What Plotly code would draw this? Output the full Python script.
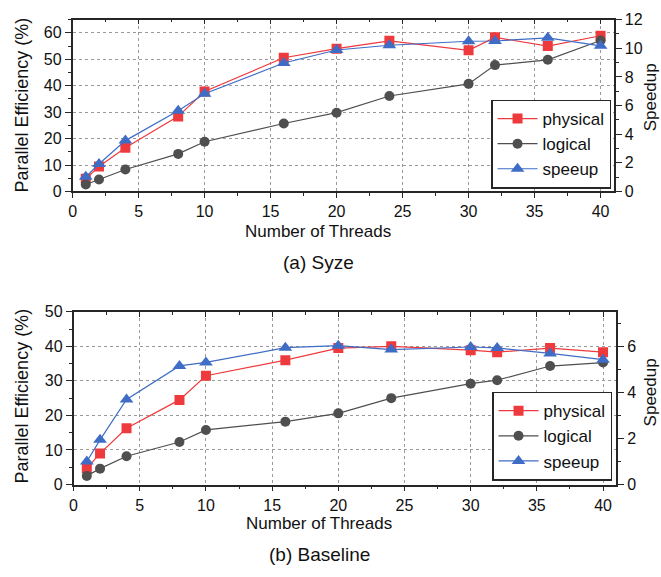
import plotly.graph_objects as go

# Thread counts shared by both experiments
threads = [1, 2, 4, 8, 10, 16, 20, 24, 30, 32, 36, 40]

# (a) Syze: parallel efficiency (%) and speedup
syze_physical = [4.8, 9.4, 16.5, 28.4, 37.8, 50.6, 54.0, 57.0, 53.4, 58.3, 55.0, 58.9]
syze_logical = [2.6, 4.5, 8.3, 14.2, 18.8, 25.7, 29.8, 36.1, 40.7, 47.8, 49.8, 57.1]
syze_speedup = [1.02, 1.92, 3.55, 5.63, 6.82, 8.97, 9.88, 10.21, 10.49, 10.51, 10.73, 10.17]

# (b) Baseline: parallel efficiency (%) and speedup
base_physical = [4.7, 9.0, 16.3, 24.5, 31.5, 36.0, 39.5, 40.0, 38.9, 38.3, 39.5, 38.3]
base_logical = [2.5, 4.6, 8.2, 12.3, 15.8, 18.2, 20.6, 25.0, 29.2, 30.2, 34.3, 35.3]
base_speedup = [1.0, 1.94, 3.69, 5.15, 5.30, 5.94, 6.03, 5.86, 5.97, 5.93, 5.69, 5.42]

W, H = 661, 577
FONT = "Liberation Sans, Arial, sans-serif"
RED, GRAY, BLUE = "#EE3A3C", "#4F4F4F", "#3F6DC6"
AXIS = "#262626"


def px(x):
    return x / W


def py(y):
    return 1 - y / H


fig = go.Figure()


def add_panel(phys, logi, spd, xa, ya, ya2, legend):
    common = dict(x=threads, mode="lines+markers", legend=legend, xaxis=xa)
    fig.add_trace(go.Scatter(y=phys, name="physical", yaxis=ya,
                             line=dict(color=RED, width=1.2),
                             marker=dict(symbol="square", size=10, color=RED), **common))
    fig.add_trace(go.Scatter(y=logi, name="logical", yaxis=ya,
                             line=dict(color=GRAY, width=1.2),
                             marker=dict(symbol="circle", size=10, color=GRAY), **common))
    fig.add_trace(go.Scatter(y=spd, name="speeup", yaxis=ya2,
                             line=dict(color=BLUE, width=1.2),
                             marker=dict(symbol="triangle-up", size=12, color=BLUE), **common))


add_panel(syze_physical, syze_logical, syze_speedup, "x", "y", "y2", "legend")
add_panel(base_physical, base_logical, base_speedup, "x2", "y3", "y4", "legend2")

tickfont = dict(family=FONT, size=16, color="#111")
grid = dict(showgrid=True, gridcolor="#9A9A9A", griddash="dot", gridwidth=1)
line = dict(showline=True, linecolor=AXIS, linewidth=1.6, zeroline=False)


def xaxis(domain, anchor):
    return dict(domain=domain, anchor=anchor, range=[0, 41], tick0=0, dtick=5,
                ticks="outside", ticklen=5, tickwidth=1.3, tickcolor=AXIS,
                minor=dict(dtick=2.5, ticks="outside", ticklen=3, tickcolor=AXIS, showgrid=False),
                tickfont=tickfont, **grid, **line)


def topaxis(domain, anchor, over):
    return dict(domain=domain, anchor=anchor, overlaying=over, side="top", range=[0, 41],
                tick0=0, dtick=5, ticks="inside", ticklen=5, tickwidth=1.3, tickcolor=AXIS,
                minor=dict(dtick=2.5, ticks="inside", ticklen=3, tickcolor=AXIS, showgrid=False),
                showticklabels=False, showgrid=False, **line)


def leftaxis(domain, anchor, top):
    return dict(domain=domain, anchor=anchor, range=[0, top], tick0=0, dtick=10,
                ticks="outside", ticklen=6, tickwidth=1.3, tickcolor=AXIS,
                minor=dict(dtick=5, ticks="outside", ticklen=3, tickcolor=AXIS, showgrid=False),
                tickfont=tickfont, **grid, **line)


def rightaxis(anchor, over, top):
    return dict(anchor=anchor, overlaying=over, side="right", range=[0, top], tick0=0, dtick=2,
                ticks="outside", ticklen=6, tickwidth=1.3, tickcolor=AXIS,
                minor=dict(dtick=1, ticks="outside", ticklen=3, tickcolor=AXIS, showgrid=False),
                tickfont=tickfont, showgrid=False, **line)


top_x = [px(69), px(613.5)]
top_y = [py(189), py(12)]
bot_x = [px(70), px(616)]
bot_y = [py(491), py(313)]

legend_style = dict(xanchor="left", yanchor="bottom", bgcolor="white",
                    bordercolor=AXIS, borderwidth=1.5,
                    font=dict(family=FONT, size=17, color="#111"),
                    itemwidth=40, tracegroupgap=0)

fig.update_layout(
    width=W, height=H, autosize=False,
    margin=dict(l=0, r=0, t=0, b=0),
    paper_bgcolor="white", plot_bgcolor="white",
    font=dict(family=FONT, color="#111"),
    xaxis=xaxis(top_x, "y"),
    xaxis3=topaxis(top_x, "y", "x"),
    yaxis=leftaxis(top_y, "x", 65),
    yaxis2=rightaxis("x", "y", 12),
    xaxis2=xaxis(bot_x, "y3"),
    xaxis4=topaxis(bot_x, "y3", "x2"),
    yaxis3=leftaxis(bot_y, "x2", 50),
    yaxis4=rightaxis("x2", "y3", 7.5),
    legend=dict(x=px(490), y=py(186), **legend_style),
    legend2=dict(x=px(491), y=py(487), **legend_style),
)

# Keep the mirrored top axes attached by giving them an (empty) trace each
fig.add_trace(go.Scatter(x=[], y=[], xaxis="x3", yaxis="y", showlegend=False, hoverinfo="skip"))
fig.add_trace(go.Scatter(x=[], y=[], xaxis="x4", yaxis="y3", showlegend=False, hoverinfo="skip"))

labels = [
    ("Parallel Efficiency (%)", 18.5, 100, -90, 18),
    ("Speedup", 650, 92, -90, 17),
    ("Number of Threads", 316, 230, 0, 17),
    ("(a) Syze", 316, 262, 0, 19),
    ("Parallel Efficiency (%)", 18.5, 400, -90, 18),
    ("Speedup", 650, 396, -90, 17),
    ("Number of Threads", 317, 531, 0, 17),
    ("(b) Baseline", 317, 563, 0, 19),
]
for text, x, y, angle, size in labels:
    fig.add_annotation(text=text, x=px(x), y=py(y), xref="paper", yref="paper",
                       xanchor="center", yanchor="middle", textangle=angle, showarrow=False,
                       font=dict(family=FONT, size=size, color="#111"))

fig.write_html("out.html")
